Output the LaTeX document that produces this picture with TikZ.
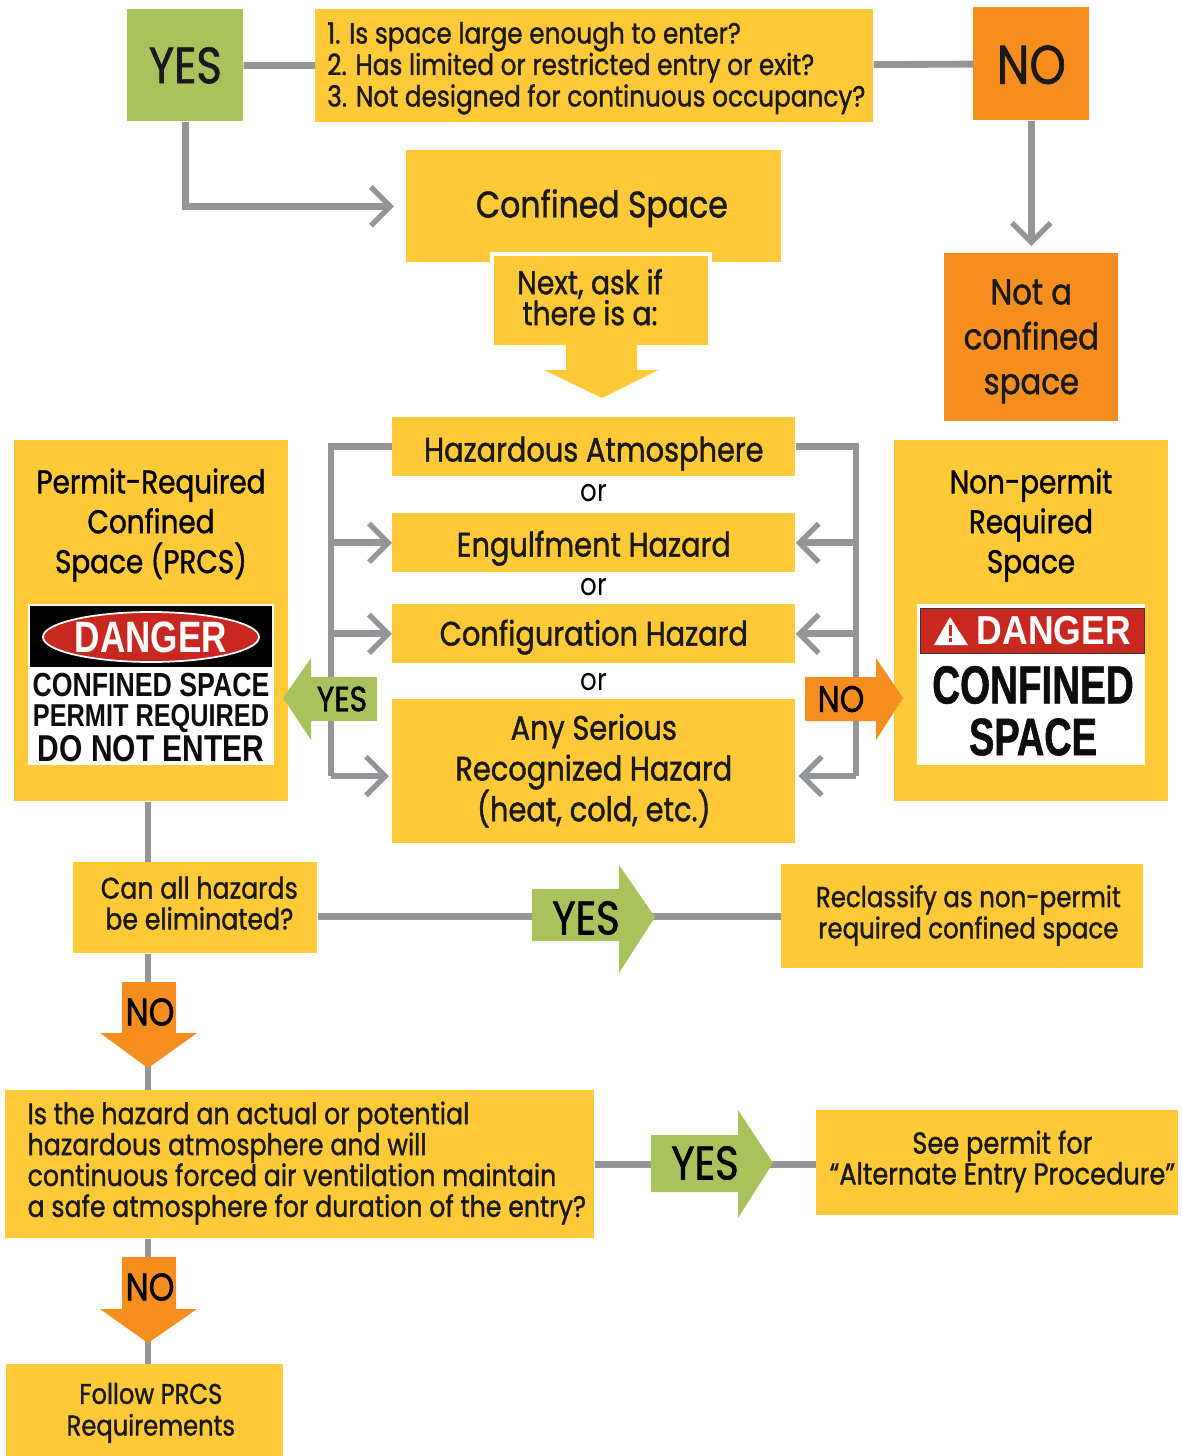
\documentclass[tikz,border=0pt]{standalone}
\usepackage{fontspec}
\setmainfont{Poppins}[FakeStretch=0.85,FakeBold=1.2]
\newfontfamily\plainfont{Poppins}[FakeStretch=0.85]
\newfontfamily\signfont{Liberation Sans}[FakeStretch=0.8,BoldFeatures={FakeStretch=0.8}]
\newfontfamily\signwide{Liberation Sans}[BoldFeatures={FakeStretch=0.88}]
\newfontfamily\signnarrow{Liberation Sans}[BoldFeatures={FakeStretch=0.72,FakeBold=1}]
\usetikzlibrary{arrows.meta,shapes.geometric}
\definecolor{boxyellow}{HTML}{FFC937}
\definecolor{boxorange}{HTML}{F58E1F}
\definecolor{boxgreen}{HTML}{A9C25B}
\definecolor{linegray}{HTML}{939598}
\definecolor{signred}{HTML}{C8281F}
\newcommand{\fz}[2]{\fontsize{#1}{#2}\selectfont}
\newlength{\px}
\setlength{\px}{0.02cm}
% lines of text, moved inside their box by dx, dy pixels
\newcommand{\shifted}[4]{\raisebox{#2\px}[\height][\depth]{\hspace*{#1\px}\hspace*{#1\px}\begin{tabular}{@{}#3@{}}#4\end{tabular}}}
\tikzset{
  wh/.style 2 args={minimum width=#1*0.02cm, minimum height=#2*0.02cm},
  box/.style={fill=boxyellow, inner sep=0pt, anchor=north west, align=center, text=black!90},
  orangebox/.style={box, fill=boxorange},
  greenbox/.style={box, fill=boxgreen},
  link/.style={draw=linegray, line width=3.9pt},
  openlink/.style={link, -{Straight Barb[length=11pt,width=22pt,line width=3pt]}},
  sign/.style={inner sep=0pt, text=black!95},
  ortext/.style={inner sep=0pt, font=\plainfont\fz{17.5}{20}},
}
\begin{document}
\begin{tikzpicture}[x=0.02cm,y=-0.02cm]
        \useasboundingbox (0,0) rectangle (1182,1456);

        % Opening question
        \node[greenbox,wh={116}{112},font=\fz{29}{32}] (topyes) at (127,9) {YES};
        \node[box,wh={558}{113},font=\fz{16.6}{17.6}] (questions) at (315,9) {\shifted{2}{-3}{l}{1. Is space large enough to enter?\\2. Has limited or restricted entry or exit?\\3. Not designed for continuous occupancy?}};
        \node[orangebox,wh={116}{113},font=\fz{31}{34}] (topno) at (973,7) {\shifted{0}{-8}{c}{NO}};
        \node[box,wh={375}{112},font=\fz{21.1}{26}] (confined) at (406,150) {\shifted{8}{-2}{c}{Confined Space}};
        \node[orangebox,wh={174}{168},font=\fz{20.6}{25.5}] (notconfined) at (944,253) {\shifted{0}{-3}{c}{Not a\\confined\\space}};

        \draw[link] (topyes) -- (questions);
        \draw[link] (questions) -- (topno);
        \draw[openlink,shorten >=0.24cm] (topyes.south) |- (confined.west);
        \draw[openlink,shorten >=0.14cm] (topno.south) -- (notconfined.north -| topno.south);

        % Next step
        \node[box,wh={218}{93},font=\fz{18.8}{17.6},draw=white,line width=2.27pt] (nextask) at (490,252) {\shifted{-11}{-3}{c}{\smash{Next, ask if}\\\smash{there is a:}}};
        \fill[boxyellow] (566,345) -- (637,345) -- (637,370) -- (658,370) -- (602,398) -- (544,370) -- (566,370) -- cycle;

        % Four hazards
        \node[box,wh={403}{59},font=\fz{19.3}{22}] (atmosphere) at (392,417) {\shifted{0}{-7}{c}{Hazardous Atmosphere}};
        \node[ortext] (orone) at (594,493) {or};
        \node[box,wh={403}{59},font=\fz{19.3}{22}] (engulfment) at (392,513) {\shifted{0}{-6}{c}{Engulfment Hazard}};
        \node[ortext] (ortwo) at (594,587) {or};
        \node[box,wh={403}{59},font=\fz{19.3}{22}] (configuration) at (392,604) {\shifted{0}{-4}{c}{Configuration Hazard}};
        \node[ortext] (orthree) at (594,682) {or};
        \node[box,wh={403}{144},font=\fz{19.3}{23.2}] (serious) at (392,699) {\shifted{0}{-1}{c}{\smash{Any Serious}\\\smash{Recognized Hazard}\\\smash{(heat, cold, etc.)}}};

        \coordinate (busleft) at (331,776);
        \coordinate (busright) at (856,776);
        \coordinate (spine) at (148,1000);

        \draw[link] (atmosphere.west) -| (busleft);
        \draw[openlink] (busleft |- engulfment.west) -- (engulfment.west);
        \draw[openlink] (busleft |- configuration.west) -- (configuration.west);
        \draw[openlink,shorten >=0.06cm] (busleft) -- (busleft -| serious.west);
        \draw[link] (atmosphere.east) -| (busright);
        \draw[openlink] (busright |- engulfment.east) -- (engulfment.east);
        \draw[openlink] (busright |- configuration.east) -- (configuration.east);
        \draw[openlink,shorten >=0.06cm] (busright) -- (busright -| serious.east);

        % Permit required side
        \node[box,wh={274}{361}] (prcs) at (14,440) {};
        \node[font=\fz{18.65}{22.7},align=center] (prcstext) at (151,525) {Permit-Required\\Confined\\Space (PRCS)};
        \node[fill=white,inner sep=0pt,wh={246}{161},anchor=north west] (leftsign) at (28,604) {};
        \node[fill=black,inner sep=0pt,wh={242}{61},anchor=north west] (leftband) at (30,606) {};
        \node[ellipse,fill=signred,draw=white,line width=1pt,wh={216}{50},sign,text=white,font=\signfont\bfseries\fz{25}{26}] (leftoval) at (151,637) {DANGER};
        \node[sign,font=\signfont\bfseries\fz{19}{20}] (leftone) at (151,685) {CONFINED SPACE};
        \node[sign,font=\signfont\bfseries\fz{18}{19}] (lefttwo) at (151,719) {PERMIT REQUIRED};
        \node[sign,font=\signfont\bfseries\fz{21.3}{22}] (leftthree) at (151,749) {DO NOT ENTER};

        \fill[boxgreen] (377,677) -- (311,677) -- (311,658) -- (283,698) -- (311,740) -- (311,721) -- (377,721) -- cycle;
        \node[font=\fz{20}{22}] (sideyes) at (342,699) {YES};

        % Non-permit side
        \node[box,wh={274}{361}] (nonpermit) at (894,440) {};
        \node[font=\fz{18.65}{22.7},align=center] (nonpermittext) at (1031,525) {Non-permit\\Required\\Space};
        \node[fill=white,inner sep=0pt,wh={228}{161},anchor=north west] (rightsign) at (917,604) {};
        \node[fill=signred,draw=black!80,line width=0.8pt,inner sep=0pt,wh={224}{45},anchor=north west] (rightband) at (920,608) {};
        \fill[white] (950,617) -- (968,645) -- (934,645) -- cycle;
        \fill[signred] (949,625) rectangle (952,636);
        \fill[signred] (949,638) rectangle (952,642);
        \node[sign,text=white,font=\signwide\bfseries\fz{23}{24}] (rightdanger) at (1054,631) {DANGER};
        \node[sign,font=\signnarrow\bfseries\fz{30.5}{32}] (rightone) at (1033,685) {CONFINED};
        \node[sign,font=\signnarrow\bfseries\fz{30}{32}] (righttwo) at (1033,737) {SPACE};

        \fill[boxorange] (805,677) -- (876,677) -- (876,658) -- (903,698) -- (876,740) -- (876,721) -- (805,721) -- cycle;
        \node[font=\fz{21}{23}] (sideno) at (841,699) {NO};

        % Can the hazards go
        \node[box,wh={244}{91},font=\fz{16.9}{17.6}] (eliminate) at (73,862) {\shifted{4}{0}{c}{\smash{Can all hazards}\\\smash{be eliminated?}}};
        \node[box,wh={362}{104},font=\fz{16.4}{17.6}] (reclassify) at (781,864) {\shifted{6}{0}{c}{Reclassify as non-permit\\required confined space}};
        \node[box,wh={589}{148},font=\fz{16.9}{17.6}] (ventilation) at (5,1090) {\shifted{7}{0}{l}{\smash{Is the hazard an actual or potential}\\\smash{hazardous atmosphere and will}\\\smash{continuous forced air ventilation maintain}\\\smash{a safe atmosphere for duration of the entry?}}};
        \node[box,wh={362}{105},font=\fz{17.2}{17.6}] (alternate) at (816,1110) {\shifted{5}{0}{c}{\smash{See permit for}\\\smash{``Alternate Entry Procedure''}}};
        \node[box,wh={277}{92},font=\fz{16.2}{18}] (follow) at (6,1364) {\shifted{6}{-3}{c}{Follow PRCS\\Requirements}};

        \draw[link] (prcs.south -| spine) -- (eliminate.north -| spine);
        \draw[link] (eliminate.south -| spine) -- (ventilation.north -| spine);
        \draw[link] (ventilation.south -| spine) -- (follow.north -| spine);
        \draw[link] (eliminate.east |- reclassify.west) -- (reclassify.west);
        \draw[link] (ventilation.east) -- (ventilation.east -| alternate.west);

        % Pointers on the lines
        \fill[boxgreen] (532,889) -- (619,889) -- (619,865) -- (655,917) -- (619,973) -- (619,941) -- (532,941) -- cycle;
        \node[font=\fz{26.8}{29}] (middleyes) at (586,918) {YES};
        \fill[boxgreen] (651,1135) -- (738,1135) -- (738,1110) -- (773,1163) -- (738,1218) -- (738,1192) -- (651,1192) -- cycle;
        \node[font=\fz{26.8}{29}] (loweryes) at (705,1163) {YES};
        \fill[boxorange] (122,982) -- (176,982) -- (176,1033) -- (197,1033) -- (148,1068) -- (100,1033) -- (122,1033) -- cycle;
        \node[font=\fz{22}{24}] (middleno) at (150,1012) {NO};
        \fill[boxorange] (122,1257) -- (176,1257) -- (176,1309) -- (197,1309) -- (148,1343) -- (100,1309) -- (122,1309) -- cycle;
        \node[font=\fz{22}{24}] (lowerno) at (150,1287) {NO};
    \end{tikzpicture}
\end{document}
